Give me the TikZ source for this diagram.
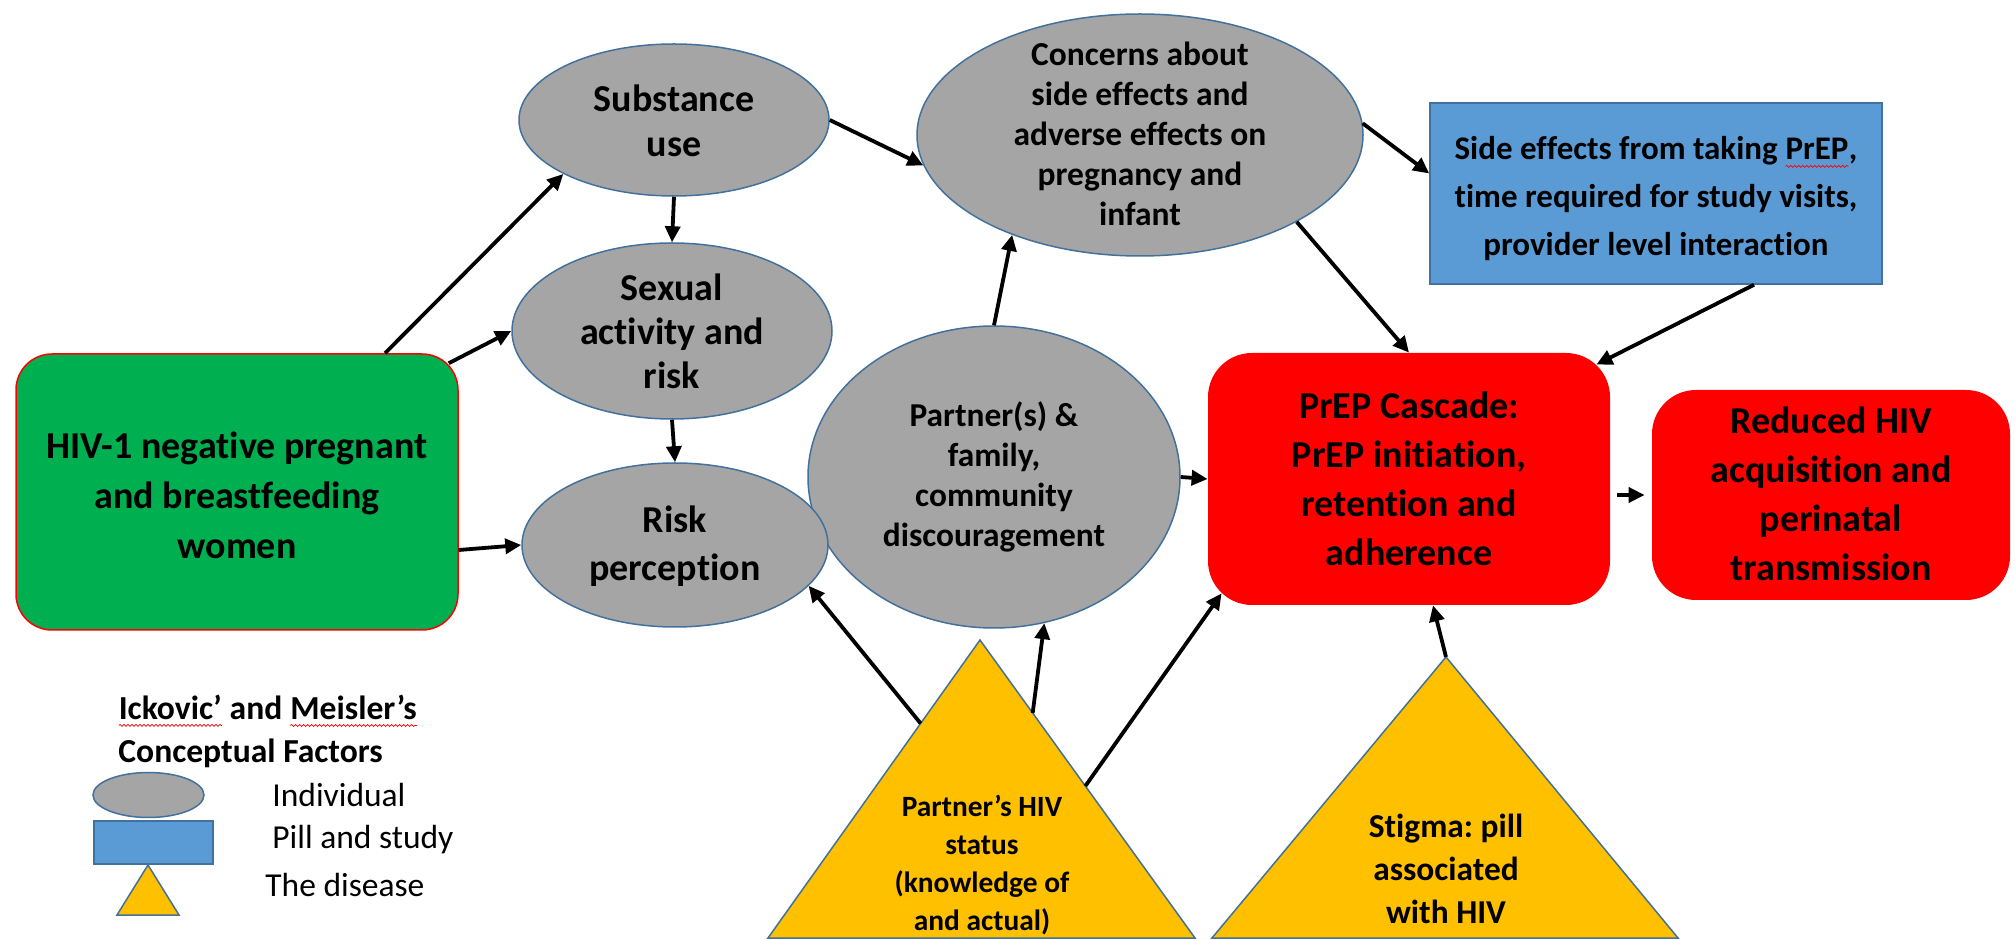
\documentclass[tikz,border=0pt]{standalone}
\usepackage{fontspec}
\setmainfont[Ligatures=NoCommon]{Carlito}
\frenchspacing
\usetikzlibrary{shapes.geometric,arrows.meta,calc,decorations.pathmorphing}
\definecolor{ellblue}{HTML}{41719C}
\definecolor{grayfill}{HTML}{A5A5A5}
\definecolor{boxgreen}{HTML}{00B050}
\definecolor{boxred}{HTML}{FF0000}
\definecolor{boxblue}{HTML}{5B9BD5}
\definecolor{gold}{HTML}{FFC000}
\newcommand\spellmark[1]{\tikz[baseline=(spw.base)]{\node[inner sep=0pt,outer sep=0pt] (spw) {#1};
  \draw[boxred, line width=0.35pt, decorate, decoration={snake, amplitude=0.5pt, segment length=2pt}]
    ([yshift=-3.2pt]spw.base west) -- ([yshift=-3.2pt]spw.base east);}}
\begin{document}
\begin{tikzpicture}[x=0.5pt,y=-0.5pt,
  ell/.style={ellipse, draw=ellblue, line width=0.75pt, fill=grayfill, inner sep=0pt},
  rbox/.style={rectangle, inner sep=0pt},
  tri/.style={draw=ellblue, line width=0.75pt, fill=gold, line join=miter},
  lbl/.style={align=center, inner sep=0pt},
  arr/.style={line width=1.9pt, -{Triangle[length=8pt,width=7.5pt]}},
  fbig/.style={font=\bfseries\fontsize{19pt}{25pt}\selectfont},
]
\fill[white] (0,0) rectangle (2015,940);
\useasboundingbox (0,0) rectangle (2015,940);

% shapes
\node[ell, minimum width=186pt, minimum height=151pt] (part) at (994,477) {};
\node[ell, minimum width=155pt, minimum height=76pt] (sub) at (674,120) {};
\node[ell, minimum width=160pt, minimum height=88pt] (sex) at (672,331) {};
\node[ell, minimum width=153pt, minimum height=82pt] (risk) at (675,545) {};
\node[ell, minimum width=223pt, minimum height=121pt] (conc) at (1140,135) {};

\node[rbox, draw=boxred, fill=boxgreen, line width=0.75pt, rounded corners=18pt,
      minimum width=221pt, minimum height=138pt] (green) at (237,492) {};
\node[rbox, draw=ellblue, fill=boxblue, line width=0.75pt,
      minimum width=226pt, minimum height=90.5pt] (blue) at (1656,193.5) {};
\node[rbox, fill=boxred, rounded corners=22pt,
      minimum width=201pt, minimum height=126pt] (prep) at (1409,479) {};
\node[rbox, fill=boxred, rounded corners=22pt,
      minimum width=179pt, minimum height=105pt] (red2) at (1831,495) {};

\coordinate (pA) at (980,640);
\coordinate (pL) at (768,938);
\coordinate (pR) at (1195,938);
\draw[tri] (pA) -- (pL) -- (pR) -- cycle;
\coordinate (sA) at (1446,657);
\coordinate (sL) at (1212,938);
\coordinate (sR) at (1678,938);
\draw[tri] (sA) -- (sL) -- (sR) -- cycle;

% texts
\node[lbl, fbig] (greent) at (237,495) {HIV-1 negative pregnant\\and breastfeeding\\women};
\node[lbl, font=\bfseries\fontsize{19pt}{22.5pt}\selectfont] (subt) at (674,121) {Substance\\use};
\node[lbl, font=\bfseries\fontsize{19pt}{22pt}\selectfont] (sext) at (672,331) {Sexual\\activity and\\risk};
\node[lbl, font=\bfseries\fontsize{19pt}{24pt}\selectfont] (riskt) at (675,546) {Risk\\perception};
\node[lbl, font=\bfseries\fontsize{16.75pt}{20pt}\selectfont] (conct) at (1140,134) {Concerns about\\side effects and\\adverse effects on\\pregnancy and\\infant};
\node[lbl, font=\bfseries\fontsize{16.7pt}{20pt}\selectfont] (partt) at (994,477) {Partner(s) \&\\family,\\community\\discouragement};
\node[lbl, font=\bfseries\fontsize{16.5pt}{24pt}\selectfont] (bluet) at (1656,199) {Side effects from taking \spellmark{PrEP},\\time required for study visits,\\provider level interaction};
\node[lbl, font=\bfseries\fontsize{19pt}{24.5pt}\selectfont] (prept) at (1409,479) {\spellmark{PrEP} Cascade:\\\spellmark{PrEP} initiation,\\retention and\\adherence};
\node[lbl, font=\bfseries\fontsize{19pt}{24.5pt}\selectfont] (red2t) at (1831,494) {Reduced HIV\\acquisition and\\perinatal\\transmission};
\node[lbl, font=\bfseries\fontsize{14.7pt}{19pt}\selectfont] (ptrit) at (982,865) {Partner’s HIV\\status\\(knowledge of\\and actual)};
\node[lbl, font=\bfseries\fontsize{16.7pt}{21.5pt}\selectfont] (strit) at (1446,869) {Stigma: pill\\associated\\with HIV};

% arrows
\draw[arr] ([xshift=74pt]green.north) -- (sub.206);
\draw[arr] ([xshift=-5pt,yshift=-5pt]green.north east) -- (sex.west);
\draw[arr] ([yshift=-29pt]green.east) -- (risk.west);
\draw[arr] (sub.south) -- (sex.north);
\draw[arr] (sex.south) -- (risk.north);
\draw[arr] (sub.east) -- (conc.188);
\draw[arr] (conc.3) -- ([yshift=10pt]blue.west);
\draw[arr] (conc.331) -- (prep.north);
\draw[arr] ([xshift=49pt]blue.south) -- ([xshift=-7pt,yshift=-6pt]prep.north east);
\draw[arr] (part.north) -- (conc.218);
\draw[arr] (part.east) -- (prep.west);
\draw[arr, shorten <=3.5pt, shorten >=3.5pt] (prep.east |- red2.west) -- (red2.west);
\coordinate (p1) at ($(pA)!0.28!(pL)$);
\coordinate (p2) at ($(pA)!0.245!(pR)$);
\coordinate (p3) at ($(pA)!0.49!(pR)$);
\draw[arr] (p1) -- (risk.343);
\draw[arr] (p2) -- (part.289);
\draw[arr] (p3) -- ([xshift=7pt,yshift=6pt]prep.south west);
\draw[arr] (sA) -- ([xshift=12pt]prep.south);

% legend
\node[lbl, align=left, anchor=west, font=\bfseries\fontsize{16.8pt}{21.5pt}\selectfont] (legt) at (118,731) {\spellmark{Ickovic’} and \spellmark{Meisler’s}\\Conceptual Factors};
\node[ell, minimum width=55.5pt, minimum height=22.5pt] (lell) at (148.5,795) {};
\node[rbox, draw=ellblue, fill=boxblue, line width=0.75pt, minimum width=59.5pt, minimum height=21.5pt] (lrect) at (153.5,842.5) {};
\coordinate (lA) at (148,865);
\coordinate (lL) at (117,915);
\coordinate (lR) at (179,915);
\draw[tri] (lA) -- (lL) -- (lR) -- cycle;
\node[lbl, anchor=west, font=\fontsize{16.75pt}{20pt}\selectfont] (lind) at (272,795) {Individual};
\node[lbl, anchor=west, font=\fontsize{16.75pt}{20pt}\selectfont] (lpill) at (272,840) {Pill and study};
\node[lbl, anchor=west, font=\fontsize{16.75pt}{20pt}\selectfont] (ldis) at (265,885) {The disease};
\end{tikzpicture}
\end{document}
